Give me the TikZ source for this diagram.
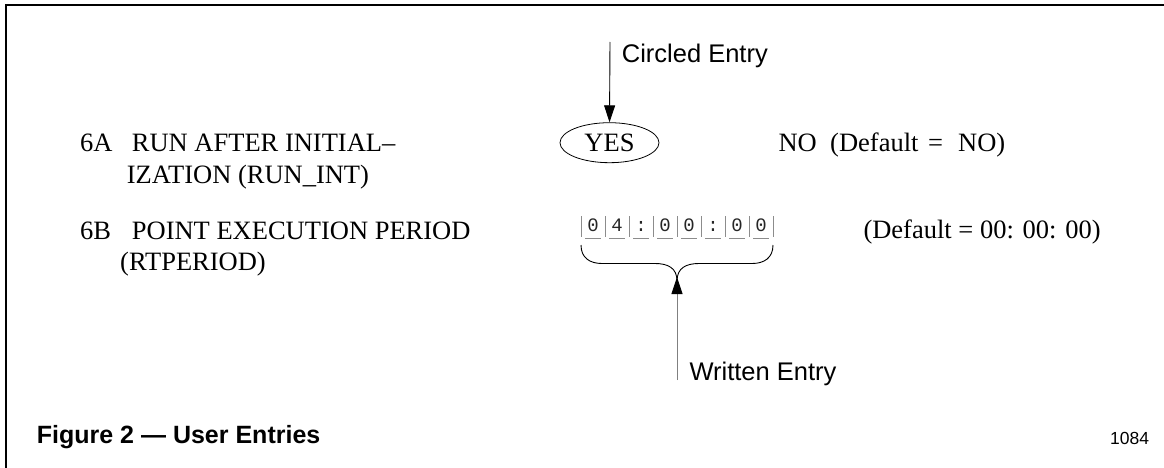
\documentclass[tikz,border=0pt]{standalone}
\usepackage{fontspec}
\setmainfont{Liberation Serif}
\setsansfont{Liberation Sans}
\newfontfamily\monofnt{Liberation Mono}
\usetikzlibrary{arrows.meta,shapes.geometric}
\begin{document}
\begin{tikzpicture}[x=1pt,y=-1pt,
  serif/.style={font=\fontsize{26.5}{31}\selectfont, anchor=base west, inner sep=0pt},
  sans/.style={font=\sffamily\fontsize{25.5}{30}\selectfont, anchor=base west, inner sep=0pt},
  capt/.style={font=\sffamily\bfseries\fontsize{25}{30}\selectfont, anchor=base west, inner sep=0pt},
  digit/.style={font=\monofnt\fontsize{19}{22}\selectfont, anchor=base, inner sep=0pt, text=black!85},
  cellbar/.style={draw=black!45, line width=0.9pt},
  pointer/.style={line width=0.9pt, -{Triangle[length=17pt,width=11pt,color=black]}},
  frame/.style={line width=2pt}]
\useasboundingbox (0,0) rectangle (1164,468);
% frame (top and left only)
\draw[frame] (6,468) -- (6,5) -- (1164,5);

% item 6A
\node[serif] (n6a) at (80,151.7) {6A};
\node[serif] (t6a1) at (131.7,151.7) {RUN AFTER INITIAL–};
\node[serif] (t6a2) at (126.7,183) {IZATION (RUN\_INT)};
\node[draw, ellipse, line width=0.8pt, minimum width=99pt, minimum height=40pt, inner sep=0pt,
      font=\fontsize{26.5}{31}\selectfont] (yes) at (609.5,142.7) {YES};
\node[serif] (no1) at (778.3,151.7) {NO};
\node[serif] (no2) at (830,151.7) {(Default};
\node[serif] (no3) at (928,151.7) {=};
\node[serif] (no4) at (958,151.7) {NO)};

% item 6B
\node[serif] (n6b) at (80,239.3) {6B};
\node[serif] (t6b1) at (131.7,239.3) {POINT EXECUTION PERIOD};
\node[serif] (t6b2) at (120,270) {(RTPERIOD)};
\node[serif] (def) at (863.3,238.3) {(Default = 00: 00: 00)};

% digit cells
\foreach \d [count=\i from 0] in {0,4,:,0,0,:,0,0} {
  \node[digit] (c\i) at ({593+24*\i},231) {\d};
  \draw[cellbar] ({585+24*\i},238.5) -- ({601+24*\i},238.5);
}
\foreach \k in {0,...,8} {
  \draw[cellbar] ({581+24*\k},216) -- ({581+24*\k},237);
}

% brace
\coordinate (bt) at (677,281);
\draw[line width=0.9pt] (581,245) .. controls (581,258) and (590,263.5) .. (602,263.5)
  -- (655,263.5) .. controls (668,263.5) and (677,268) .. (bt)
  .. controls (677,268) and (686,263.5) .. (699,263.5)
  -- (752,263.5) .. controls (764,263.5) and (773,258) .. (773,245);

% circled entry pointer
\node[sans] (ce) at (621.7,63) {Circled Entry};
\coordinate (cetop) at (610,42);
\draw[pointer] (cetop) -- (yes.north);

% written entry pointer
\node[sans] (we) at (689.3,380) {Written Entry};
\coordinate (webot) at (677,380);
\draw[pointer, draw=black!50] (webot) -- ([yshift=4pt]bt);

% caption
\node[capt] (cap) at (36.7,443.3) {Figure 2 — User Entries};
\node[font=\sffamily\fontsize{17.5}{20}\selectfont, anchor=base west, inner sep=0pt] (num) at (1110,444) {1084};
\end{tikzpicture}
\end{document}
